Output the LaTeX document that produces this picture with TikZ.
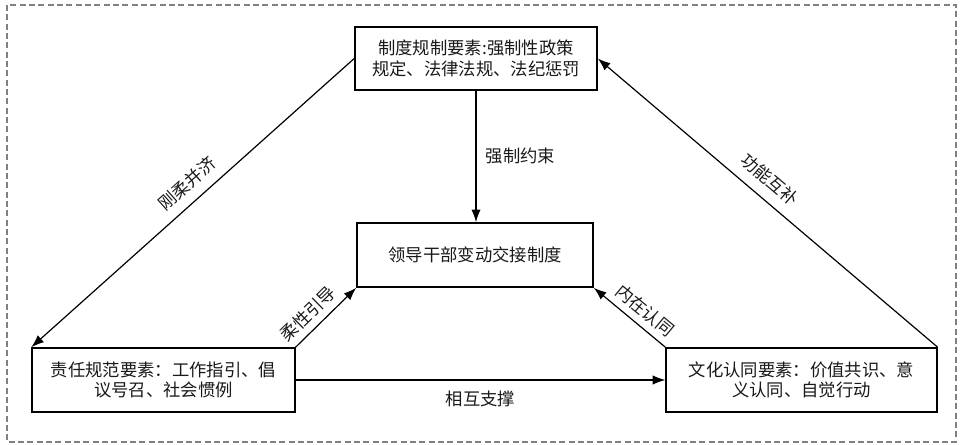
\documentclass[tikz,border=0pt]{standalone}
\usepackage{fontspec}
\setmainfont{Noto Sans CJK SC}
\usetikzlibrary{arrows.meta, positioning}

\tikzset{
  factor/.style={draw, line width=1.2pt, fill=white, align=center, inner sep=0pt, text=black!90},
  link/.style={line width=0.9pt, -{Latex[length=9.5pt,width=7pt]}},
  tag/.style={text=black!90, inner sep=2pt}
}

\begin{document}
\begin{tikzpicture}[x=0.75pt, y=-0.75pt, font=\fontsize{13}{15.5}\selectfont]
\useasboundingbox (0,0) rectangle (960,445);
% outer frame
\draw[gray, line width=1pt, dash pattern=on 4.5pt off 2.5pt] (7,5) rectangle (956,442);

% factor boxes
\node[factor, minimum width=181.5pt, minimum height=47pt] (rule) at (476,58.5) {制度规制要素:强制性政策\\规定、法律法规、法纪惩罚};
\node[factor, minimum width=177pt, minimum height=48pt] (core) at (475,255) {领导干部变动交接制度};
\node[factor, minimum width=197pt, minimum height=48pt] (duty) at (163.5,380) {责任规范要素：工作指引、倡\\议号召、社会惯例};
\node[factor, minimum width=203pt, minimum height=48pt] (culture) at (801.5,380) {文化认同要素：价值共识、意\\义认同、自觉行动};

% links between the factors
\draw[link] (rule.south) -- node[tag, right=5pt] {强制约束} (rule.south |- core.north);
\draw[link] (rule.west) -- node[tag, sloped, above=5pt, pos=0.48] {刚柔并济} (duty.north west);
\draw[link] (culture.north east) -- node[tag, sloped, above=6pt, pos=0.53] {功能互补} (rule.east);
\draw[link] (duty.north east) -- node[tag, sloped, above=3pt, pos=0.38] {柔性引导} (core.south west);
\draw[link] (culture.north west) -- node[tag, sloped, above=3pt, pos=0.42] {内在认同} (core.south east);
\draw[link] (duty.east) -- node[tag, below=6pt] {相互支撑} (culture.west);
\end{tikzpicture}
\end{document}
